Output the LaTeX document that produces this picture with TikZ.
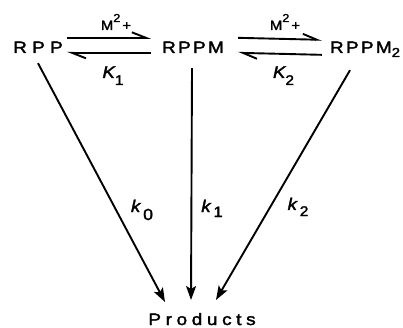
\documentclass[tikz,border=0pt]{standalone}
\usepackage{fontspec}
\setmainfont{Liberation Sans}[FakeStretch=1.15, LetterSpace=14, FakeBold=2]
\newfontfamily\labfont{Liberation Sans}[FakeStretch=1.1, FakeBold=2]
\usetikzlibrary{arrows.meta}
\begin{document}
\begin{tikzpicture}[x=1pt,y=-1pt,
  species/.style={inner sep=0pt, anchor=base, font=\fontsize{16.5}{18}\selectfont},
  lab/.style={inner sep=0pt, anchor=base, font=\labfont\fontsize{13.5}{14}\selectfont},
  klab/.style={inner sep=0pt, anchor=base, font=\labfont\fontsize{17}{18}\selectfont},
  fwd/.style={line width=1.9pt, -{Straight Barb[left,length=14pt,width=11pt,line width=1.9pt]}},
  rxn/.style={line width=1.9pt, -{Stealth[length=14pt,width=10pt,inset=3pt]}}]
\fill[white] (0,0) rectangle (403,328);
\useasboundingbox (0,0) rectangle (403,328);

\node[species, font=\fontsize{16.5}{18}\selectfont\addfontfeatures{LetterSpace=32}] (rpp) at (38,53) {RPP};
\node[species] (rppm) at (193,53) {RPPM};
\node[species] (rppm2) at (365,53) {RPPM\raisebox{-4pt}{\fontsize{13}{14}\selectfont 2}};
\node[species, font=\fontsize{16.5}{18}\selectfont\addfontfeatures{LetterSpace=28}] (prod) at (202,325) {Products};

\node[lab] (m1) at (116,30) {M\raisebox{8pt}{\fontsize{11.5}{12}\selectfont 2}\kern2pt+};
\node[lab] (m2) at (285,30) {M\raisebox{8pt}{\fontsize{11.5}{12}\selectfont 2}\kern2pt+};
\node[klab] (K1) at (113,78) {\itshape K\raisebox{-7pt}{\upshape\fontsize{14}{15}\selectfont 1}};
\node[klab] (K2) at (283.5,78) {\itshape K\raisebox{-7pt}{\upshape\fontsize{14}{15}\selectfont 2}};

\node[klab] (k0) at (142,212) {\itshape k\,\raisebox{-8pt}{\upshape\fontsize{16}{17}\selectfont 0}};
\node[klab] (k1) at (212,212) {\itshape k\,\raisebox{-5pt}{\upshape\fontsize{15}{16}\selectfont 1}};
\node[klab] (k2) at (298,210) {\itshape k\,\raisebox{-6pt}{\upshape\fontsize{14}{15}\selectfont 2}};

% equilibria (harpoons)
\draw[fwd] ([xshift=4pt,yshift=9.5pt]rpp.east) -- ([xshift=-11pt,yshift=9.5pt]rppm.west);
\draw[fwd] ([xshift=-11pt,yshift=-5.5pt]rppm.west) -- ([xshift=4pt,yshift=-5.5pt]rpp.east);
\draw[fwd] ([xshift=14pt,yshift=9.5pt]rppm.east) -- ([xshift=-8pt,yshift=9.5pt]rppm2.west);
\draw[fwd] ([xshift=-8pt,yshift=-5.5pt]rppm2.west) -- ([xshift=14pt,yshift=-5.5pt]rppm.east);

% reactions to products
\coordinate (t0) at (165,302);
\coordinate (t1) at (191,300);
\coordinate (t2) at (216,300);
\draw[rxn] ([xshift=0pt,yshift=-10pt]rpp.south) -- (t0);
\draw[rxn] ([xshift=-1pt,yshift=-15pt]rppm.south) -- (t1);
\draw[rxn] ([xshift=-15pt,yshift=-13pt]rppm2.south) -- (t2);
\end{tikzpicture}
\end{document}
